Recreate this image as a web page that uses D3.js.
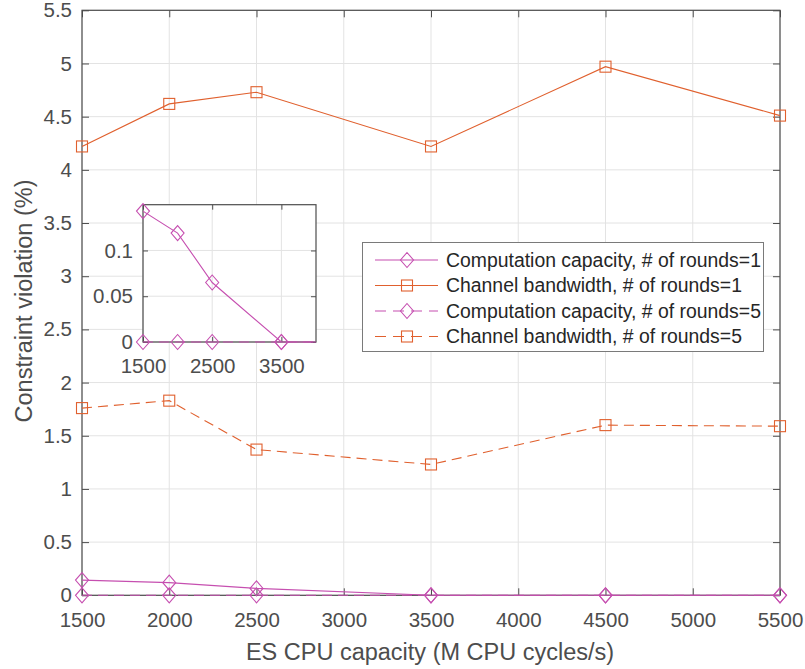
<!DOCTYPE html>
<html>
<head>
<meta charset="utf-8">
<script src="https://cdn.jsdelivr.net/npm/d3@7"></script>
<style>
  html, body { margin: 0; padding: 0; background: #fff; }
  svg { display: block; font-family: "Liberation Sans", Arial, Helvetica, sans-serif; }
</style>
</head>
<body>
<svg id="chart" width="805" height="669"></svg>
<script>
// CPU capacity of the edge server (M CPU cycles/s)
const capacities = [1500, 2000, 2500, 3500, 4500, 5500];

// Constraint violation (%) per series
const compRounds1 = [0.143, 0.119, 0.065, 0, 0, 0];
const bandRounds1 = [4.22, 4.62, 4.73, 4.22, 4.97, 4.51];
const compRounds5 = [0, 0, 0, 0, 0, 0];
const bandRounds5 = [1.76, 1.83, 1.37, 1.23, 1.60, 1.59];

const xTicks = [1500, 2000, 2500, 3000, 3500, 4000, 4500, 5000, 5500];
const yTicks = [0, 0.5, 1, 1.5, 2, 2.5, 3, 3.5, 4, 4.5, 5, 5.5];
const insetXTicks = [1500, 2500, 3500];
const insetYTicks = [0, 0.05, 0.1];

const seriesNames = [
  "Computation capacity, # of rounds=1",
  "Channel bandwidth, # of rounds=1",
  "Computation capacity, # of rounds=5",
  "Channel bandwidth, # of rounds=5"
];

const MAGENTA = "#C64FB0";
const ORANGE = "#E0602E";
const AXIS = "#4D4D4D";
const GRID = "#E3E3E3";
const DASH = "10,6";

const series = [
  { name: seriesNames[0], values: compRounds1, color: MAGENTA, marker: "diamond", dash: null },
  { name: seriesNames[1], values: bandRounds1, color: ORANGE, marker: "square", dash: null },
  { name: seriesNames[2], values: compRounds5, color: MAGENTA, marker: "diamond", dash: DASH },
  { name: seriesNames[3], values: bandRounds5, color: ORANGE, marker: "square", dash: DASH }
];

const svg = d3.select("#chart");

function drawMarker(g, type, x, y, color) {
  if (type === "diamond") {
    g.append("path")
      .attr("d", `M${x},${y - 7.5}L${x + 6.5},${y}L${x},${y + 7.5}L${x - 6.5},${y}Z`)
      .attr("fill", "none").attr("stroke", color).attr("stroke-width", 1.1);
  } else {
    g.append("rect")
      .attr("x", x - 5.5).attr("y", y - 5.5).attr("width", 11).attr("height", 11)
      .attr("fill", "none").attr("stroke", color).attr("stroke-width", 1.1);
  }
}

// Draws a boxed MATLAB-style axes panel with grid, inward ticks and series
function drawPanel(opts) {
  const { left, top, right, bottom, xDomain, yDomain, xt, yt, fmtY, data, clip } = opts;
  const x = d3.scaleLinear().domain(xDomain).range([left, right]);
  const y = d3.scaleLinear().domain(yDomain).range([bottom, top]);
  const g = svg.append("g");

  g.append("rect").attr("x", left).attr("y", top)
    .attr("width", right - left).attr("height", bottom - top).attr("fill", "#fff");

  // grid
  g.append("g").selectAll("line").data(xt).join("line")
    .attr("x1", d => x(d)).attr("x2", d => x(d)).attr("y1", top).attr("y2", bottom)
    .attr("stroke", GRID).attr("stroke-width", 1);
  g.append("g").selectAll("line").data(yt).join("line")
    .attr("x1", left).attr("x2", right).attr("y1", d => y(d)).attr("y2", d => y(d))
    .attr("stroke", GRID).attr("stroke-width", 1);

  // axes with inward ticks, mirrored on top/right
  const tickLen = opts.tickLen || 7;
  const fs = opts.fontSize || 20.5;
  const bottomAxis = g.append("g").attr("transform", `translate(0,${bottom})`)
    .call(d3.axisBottom(x).tickValues(xt).tickSizeInner(-tickLen).tickSizeOuter(0).tickPadding(opts.xPad).tickFormat(d3.format("d")));
  const leftAxis = g.append("g").attr("transform", `translate(${left},0)`)
    .call(d3.axisLeft(y).tickValues(yt).tickSizeInner(-tickLen).tickSizeOuter(0).tickPadding(opts.yPad).tickFormat(fmtY));
  const topAxis = g.append("g").attr("transform", `translate(0,${top})`)
    .call(d3.axisTop(x).tickValues(xt).tickSizeInner(-tickLen).tickSizeOuter(0).tickFormat(""));
  const rightAxis = g.append("g").attr("transform", `translate(${right},0)`)
    .call(d3.axisRight(y).tickValues(yt).tickSizeInner(-tickLen).tickSizeOuter(0).tickFormat(""));
  [bottomAxis, leftAxis, topAxis, rightAxis].forEach(a => {
    a.select(".domain").remove();
    a.selectAll(".tick line").attr("stroke", AXIS).attr("stroke-width", 1);
    a.selectAll("text").attr("fill", AXIS).attr("font-size", fs)
      .attr("font-family", "'Liberation Sans', Arial, sans-serif");
  });
  bottomAxis.selectAll("text").attr("dy", "0.71em");
  g.append("rect").attr("x", left).attr("y", top)
    .attr("width", right - left).attr("height", bottom - top)
    .attr("fill", "none").attr("stroke", AXIS).attr("stroke-width", 1.2);

  // series
  const clipId = "clip" + Math.round(left);
  svg.append("clipPath").attr("id", clipId).append("rect")
    .attr("x", left).attr("y", top - 1).attr("width", right - left).attr("height", bottom - top + 2);
  const line = d3.line().x(d => x(d[0])).y(d => y(d[1]));
  const sg = g.append("g");
  data.forEach(s => {
    const pts = capacities.map((c, i) => [c, s.values[i]]);
    sg.append("path").datum(pts)
      .attr("d", line).attr("fill", "none")
      .attr("stroke", s.color).attr("stroke-width", 1.1)
      .attr("stroke-dasharray", s.dash)
      .attr("clip-path", clip ? `url(#${clipId})` : null);
    pts.filter(p => p[0] <= xDomain[1]).forEach(p => drawMarker(sg, s.marker, x(p[0]), y(p[1]), s.color));
  });
  return { x, y, g };
}

// main panel
drawPanel({
  left: 82, top: 10.3, right: 780, bottom: 595.3,
  xDomain: [1500, 5500], yDomain: [0, 5.5],
  xt: xTicks, yt: yTicks, fmtY: d => String(d),
  data: series, fontSize: 20.5, xPad: 17, yPad: 10
});

// axis titles
svg.append("text").attr("x", 430).attr("y", 660)
  .attr("text-anchor", "middle").attr("font-size", 23.5).attr("fill", AXIS)
  .text("ES CPU capacity (M CPU cycles/s)");
svg.append("text").attr("transform", "translate(32,301) rotate(-90)")
  .attr("text-anchor", "middle").attr("font-size", 23.5).attr("fill", AXIS)
  .text("Constraint violation (%)");

// inset: zoom on the computation-capacity series
drawPanel({
  left: 143, top: 204.7, right: 316, bottom: 342,
  xDomain: [1500, 4000], yDomain: [0, 0.15],
  xt: insetXTicks, yt: insetYTicks, fmtY: d => String(d),
  data: [series[0], series[2]], clip: true, fontSize: 20.5, tickLen: 5, xPad: 16, yPad: 10
});

// legend
const lg = svg.append("g");
lg.append("rect").attr("x", 362.5).attr("y", 242.5).attr("width", 401).attr("height", 109)
  .attr("fill", "#fff").attr("stroke", "#7a7a7a").attr("stroke-width", 1);
series.forEach((s, i) => {
  const yy = 260 + i * 25.5;
  lg.append("line").attr("x1", 375).attr("x2", 438).attr("y1", yy).attr("y2", yy)
    .attr("stroke", s.color).attr("stroke-width", 1.1).attr("stroke-dasharray", s.dash ? "11,7" : null);
  drawMarker(lg, s.marker, 407, yy, s.color);
  lg.append("text").attr("x", 446).attr("y", yy).attr("dy", "0.35em")
    .attr("font-size", 19.4).attr("fill", "#262626").text(s.name);
});
</script>
</body>
</html>
